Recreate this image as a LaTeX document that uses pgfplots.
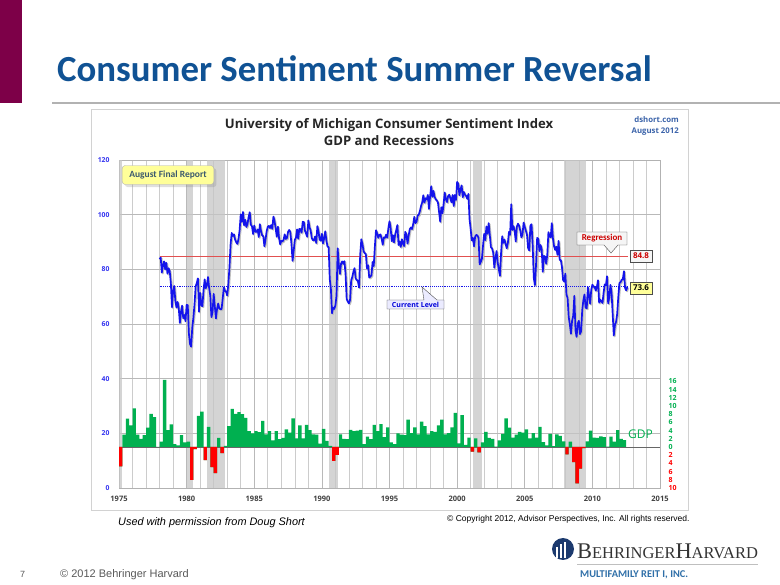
\documentclass[border=0pt]{standalone}
\usepackage{fontspec}
\setmainfont{Liberation Sans}
\newfontfamily\calibri{Carlito}
\newfontfamily\osans{Open Sans}
\newfontfamily\lserif{Liberation Serif}
\usepackage{pgfplots}
\pgfplotsset{compat=1.18}
\usepackage{pgfplotstable}
\usetikzlibrary{shadows}
\newcommand\fs[1]{\fontsize{#1bp}{#1bp}\selectfont}
\definecolor{titleblue}{RGB}{16,82,148}
\definecolor{maroon}{RGB}{125,0,72}
\definecolor{lineblue}{RGB}{20,20,235}
\definecolor{gdpgreen}{RGB}{0,176,80}
\definecolor{gdpred}{RGB}{255,0,0}
\definecolor{tickblue}{RGB}{50,50,240}
\definecolor{yellowbox}{RGB}{255,255,153}
\definecolor{navy}{RGB}{28,58,110}
\definecolor{reitblue}{RGB}{47,111,168}
\definecolor{dshort}{RGB}{60,100,170}
\definecolor{slate}{RGB}{60,90,110}
\definecolor{regred}{RGB}{225,80,80}

% University of Michigan sentiment, monthly, Jan 1978 - Aug 2012
\pgfplotstableread[row sep=\\]{v\\
83.7\\84.3\\78.8\\81.6\\82.9\\80.0\\82.4\\78.4\\80.4\\79.3\\75.0\\66.1\\
72.1\\73.9\\68.4\\66.0\\68.1\\65.8\\60.4\\64.5\\66.7\\62.1\\63.3\\61.0\\
67.0\\66.9\\56.5\\52.7\\51.7\\58.7\\62.3\\67.3\\73.7\\75.0\\76.7\\64.5\\
71.4\\66.9\\66.5\\72.4\\76.3\\73.1\\74.1\\77.2\\73.1\\70.3\\62.5\\64.3\\
71.0\\66.5\\62.0\\65.5\\67.5\\65.7\\65.4\\65.4\\69.3\\73.4\\72.1\\71.9\\
70.4\\74.6\\80.8\\89.1\\93.3\\92.2\\92.8\\90.9\\89.9\\89.3\\91.1\\94.2\\
100.1\\97.4\\101.0\\96.1\\98.1\\95.5\\96.6\\99.1\\100.9\\96.3\\95.7\\92.9\\
96.0\\93.7\\93.7\\94.6\\91.8\\96.5\\94.0\\92.4\\92.1\\88.4\\90.9\\93.9\\
95.6\\95.9\\95.1\\96.2\\94.8\\99.3\\97.7\\94.9\\91.9\\95.6\\91.4\\89.1\\
90.4\\90.2\\90.8\\92.8\\91.1\\91.5\\93.7\\94.4\\93.6\\89.3\\83.1\\86.8\\
90.8\\91.6\\94.6\\91.2\\94.8\\94.7\\93.4\\97.4\\97.3\\94.1\\93.0\\91.9\\
97.9\\95.4\\94.3\\91.5\\90.7\\90.6\\92.0\\89.6\\95.8\\93.9\\90.9\\90.5\\
93.0\\89.5\\91.3\\93.9\\90.6\\88.3\\88.2\\76.4\\72.8\\63.9\\66.0\\65.5\\
66.8\\70.4\\87.7\\81.8\\78.3\\82.1\\82.9\\82.0\\83.0\\78.3\\69.1\\68.2\\
67.5\\68.8\\76.0\\77.2\\79.2\\80.4\\76.6\\76.1\\75.6\\73.3\\85.3\\91.0\\
89.3\\86.6\\85.9\\85.6\\80.3\\81.5\\77.0\\77.3\\77.9\\82.7\\81.2\\88.2\\
94.3\\93.2\\91.5\\92.6\\92.8\\91.2\\89.0\\91.7\\91.5\\92.7\\91.6\\95.1\\
97.6\\95.1\\90.3\\92.5\\89.8\\92.7\\94.4\\96.2\\88.9\\90.2\\88.2\\91.0\\
89.3\\88.5\\93.7\\92.7\\89.4\\92.4\\94.7\\95.3\\94.7\\96.5\\99.2\\96.9\\
97.4\\99.7\\100.0\\101.4\\103.2\\104.5\\107.1\\104.4\\106.0\\105.6\\107.2\\102.1\\
106.6\\110.4\\106.5\\108.7\\106.5\\105.6\\105.2\\104.4\\100.9\\97.4\\102.7\\100.5\\
103.9\\108.1\\105.7\\104.6\\106.8\\107.3\\106.0\\104.5\\107.2\\103.2\\107.2\\105.4\\
112.0\\111.3\\107.1\\109.2\\110.7\\106.4\\108.3\\107.3\\106.8\\105.8\\107.6\\98.4\\
94.7\\90.6\\91.5\\88.4\\92.0\\92.6\\92.4\\91.5\\81.8\\82.7\\83.9\\88.8\\
93.0\\90.7\\95.7\\93.0\\96.9\\92.4\\88.1\\87.6\\86.1\\80.6\\84.2\\86.7\\
82.4\\79.9\\77.6\\86.0\\92.1\\89.7\\90.9\\89.3\\87.7\\89.6\\93.7\\92.6\\
103.8\\94.4\\95.8\\94.2\\90.2\\95.6\\96.7\\95.9\\94.2\\91.7\\92.8\\97.1\\
95.5\\94.1\\92.6\\87.7\\86.9\\96.0\\96.5\\89.1\\76.9\\74.2\\81.6\\91.5\\
91.2\\86.7\\88.9\\87.4\\79.1\\84.9\\84.7\\82.0\\85.4\\93.6\\92.1\\91.7\\
96.9\\91.3\\88.4\\87.1\\88.3\\85.3\\90.4\\83.4\\83.4\\80.9\\76.1\\75.5\\
78.4\\70.8\\69.5\\62.6\\59.8\\56.4\\61.2\\63.0\\70.3\\57.6\\55.3\\60.1\\
61.2\\56.3\\57.3\\65.1\\68.7\\70.8\\66.0\\65.7\\73.5\\70.6\\67.4\\72.5\\
74.4\\73.6\\73.6\\72.2\\73.6\\76.0\\67.8\\68.9\\68.2\\67.7\\71.6\\74.5\\
74.2\\77.5\\67.5\\69.8\\74.3\\71.5\\63.7\\55.8\\59.5\\60.8\\63.7\\69.9\\
75.0\\75.3\\76.2\\76.4\\79.3\\73.2\\72.3\\73.6\\
}\sentiment

% Real GDP growth, quarterly annualized, 1975Q1 - 2012Q2
\pgfplotstableread[row sep=\\]{g\\
-4.7\\3.0\\6.9\\5.3\\ 9.4\\3.0\\2.0\\2.9\\ 4.7\\8.1\\7.3\\0.0\\ 1.3\\16.4\\4.1\\5.5\\
0.7\\0.4\\2.9\\1.1\\ 1.3\\-8.0\\-0.5\\7.6\\ 8.6\\-3.2\\4.9\\-4.9\\ -6.4\\2.2\\-1.5\\0.3\\
5.1\\9.3\\8.1\\8.5\\ 8.0\\7.1\\3.9\\3.3\\ 3.9\\3.6\\6.4\\3.1\\ 3.9\\1.6\\3.9\\1.9\\
2.2\\4.3\\3.5\\7.0\\ 2.1\\5.3\\2.1\\5.4\\ 4.1\\3.1\\3.0\\0.8\\ 4.4\\1.5\\0.3\\-3.4\\
-1.9\\3.1\\2.0\\1.9\\ 4.2\\3.9\\4.0\\4.2\\ 0.7\\2.5\\1.9\\5.4\\ 3.9\\5.6\\2.4\\4.8\\
1.1\\0.7\\3.3\\3.0\\ 2.9\\6.7\\3.4\\4.8\\ 3.1\\6.2\\5.1\\3.1\\ 3.9\\3.7\\5.3\\6.7\\
3.1\\3.4\\4.8\\8.3\\ 0.9\\7.8\\0.5\\2.3\\ -1.1\\2.1\\-1.3\\1.1\\ 3.7\\2.2\\2.0\\0.1\\
1.6\\3.2\\7.0\\4.7\\ 2.3\\3.0\\3.7\\3.5\\ 4.3\\2.1\\3.4\\2.3\\ 4.9\\1.2\\0.4\\3.2\\
0.2\\3.1\\2.7\\1.4\\ -1.8\\1.3\\-3.7\\-8.9\\ -5.3\\-0.3\\1.4\\4.0\\ 2.3\\2.2\\2.6\\2.4\\
0.1\\2.5\\1.3\\4.1\\ 2.0\\1.7\\
}\gdp

\begin{document}
\begin{tikzpicture}
\useasboundingbox (0bp,0bp) rectangle (780bp,585bp);
\begin{scope}[x=1bp,y=1bp]
\fill[white] (0,0) rectangle (780,585);
\fill[maroon] (0,482) rectangle (22,585);
\node[anchor=base west, text=titleblue, font=\calibri\bfseries\fs{36.8}, inner sep=0] at (57,503) {Consumer Sentiment Summer Reversal};
\draw[gray!60, line width=2] (52,482) -- (780,482);
\draw[gray!35] (91,75) rectangle (688,476);
\end{scope}

\begin{axis}[at={(119bp,97bp)}, anchor=south west, scale only axis,
  width=541bp, height=328bp,
  xmin=1975, xmax=2015, ymin=0, ymax=120,
  xtick={1975,1980,...,2015}, minor x tick num=4,
  ytick={0,20,...,120},
  grid=both,
  major grid style={gray!55, line width=0.6},
  minor grid style={gray!40, line width=0.6},
  major tick length=0, minor tick length=0,
  axis line style={gray!60},
  yticklabel style={font=\osans\bfseries\fs{6.8}, text=tickblue, xshift=-6bp},
  xticklabel style={font=\osans\bfseries\fs{7.5}, text=black!75, yshift=-5bp},
  /pgf/number format/1000 sep={},
  /pgf/number format/assume math mode=true,
]
% recessions
\addplot[fill=gray!45, fill opacity=0.75, draw=none] coordinates {(1975,0) (1975,120) (1975.2,120) (1975.2,0)} -- cycle;
\addplot[fill=gray!45, fill opacity=0.75, draw=none] coordinates {(1980,0) (1980,120) (1980.5,120) (1980.5,0)} -- cycle;
\addplot[fill=gray!45, fill opacity=0.75, draw=none] coordinates {(1981.5,0) (1981.5,120) (1982.85,120) (1982.85,0)} -- cycle;
\addplot[fill=gray!45, fill opacity=0.75, draw=none] coordinates {(1990.5,0) (1990.5,120) (1991.2,120) (1991.2,0)} -- cycle;
\addplot[fill=gray!45, fill opacity=0.75, draw=none] coordinates {(2001.15,0) (2001.15,120) (2001.85,120) (2001.85,0)} -- cycle;
\addplot[fill=gray!45, fill opacity=0.75, draw=none] coordinates {(2007.9,0) (2007.9,120) (2009.5,120) (2009.5,0)} -- cycle;
% GDP zero line
\addplot[black!60, line width=0.8] coordinates {(1975,15) (2015,15)};
% regression and current level
\addplot[regred, line width=0.6] coordinates {(1978,84.8) (2012.6,84.8)};
\addplot[lineblue, densely dotted, line width=0.9] coordinates {(1978,73.6) (2012.6,73.6)};
% sentiment
\addplot[black!25, line width=1.7, line join=round, xshift=1bp, yshift=-1bp] table[x expr=1978+\coordindex/12, y=v] {\sentiment};
\addplot[lineblue, line width=1.7, line join=round] table[x expr=1978+\coordindex/12, y=v] {\sentiment};
\end{axis}

\begin{axis}[at={(119bp,97bp)}, anchor=south west, scale only axis,
  width=541bp, height=328bp,
  xmin=1975, xmax=2015, ymin=-10, ymax=70,
  axis x line=none, axis y line*=right,
  y axis line style={draw=none},
  ytick={-10,-8,...,16},
  yticklabels={\textcolor{gdpred}{10},\textcolor{gdpred}{8},\textcolor{gdpred}{6},\textcolor{gdpred}{4},\textcolor{gdpred}{2},0,2,4,6,8,10,12,14,16},
  major tick length=0,
  yticklabel style={font=\osans\bfseries\fs{7}, text=gdpgreen, xshift=5bp},
  ybar, bar width=0.25, /pgf/bar shift=0pt,
]
\addplot[fill=gdpgreen, draw=none] table[x expr=1975.125+\coordindex/4, y=g] {\gdp};
\addplot[fill=gdpred, draw=none] coordinates {(1975.125,-4.7) (1980.375,-8.0) (1980.625,-0.5) (1981.375,-3.2) (1981.875,-4.9) (1982.125,-6.4) (1982.625,-1.5) (1990.875,-3.4) (1991.125,-1.9) (2001.125,-1.1) (2001.625,-1.3) (2008.125,-1.8) (2008.625,-3.7) (2008.875,-8.9) (2009.125,-5.3) (2009.375,-0.3)};
\end{axis}

\begin{scope}[x=1bp,y=1bp]
% chart titles
\node[anchor=base, font=\osans\bfseries\fs{13.1}, text=black!85, inner sep=0] at (389,456) {University of Michigan Consumer Sentiment Index};
\node[anchor=base, font=\osans\bfseries\fs{13.1}, text=black!85, inner sep=0] at (389,439) {GDP and Recessions};
\node[anchor=base east, font=\osans\bfseries\fs{7.8}, text=dshort, inner sep=0] at (679,462) {dshort.com};
\node[anchor=base east, font=\osans\bfseries\fs{7.8}, text=dshort, inner sep=0] at (679,451) {August 2012};

% annotations
\node[draw=gray!60, fill=yellowbox, rounded corners=3, minimum width=92, minimum height=19, text=slate, font=\calibri\bfseries\fs{9.5}, drop shadow={opacity=0.25}] at (168,410) {August Final Report};
\draw[gray!60!black, fill=gray!8] (577,340) -- (604,340) -- (611,332) -- (618,340) -- (627,340) -- (627,353) -- (577,353) -- cycle;
\node[text=red!80!black, font=\calibri\bfseries\fs{9}, inner sep=0] at (602,346.5) {Regression};
\node[draw=gray!60!black, fill=gray!8, text=red!80!black, font=\osans\bfseries\fs{8}, minimum width=22, minimum height=12, inner sep=1] at (641,329) {84.8};
\node[draw=gray!60!black, fill=yellowbox, text=black, font=\osans\bfseries\fs{8}, minimum width=22, minimum height=12, inner sep=1] at (641,297) {73.6};
\draw[gray!60!black, fill=blue!8] (387,285) -- (424,285) -- (422,298) -- (437,285) -- (444,285) -- (444,276) -- (387,276) -- cycle;
\node[text=blue!85!black, font=\osans\bfseries\fs{7}, inner sep=0] at (415.5,280.5) {Current Level};
\node[anchor=base west, font=\osans\fs{12}, text=gdpgreen, inner sep=0] at (628,147) {GDP};

% footer
\node[anchor=base west, font=\itshape\fs{10.9}, inner sep=0] at (118,60) {Used with permission from Doug Short};
\node[anchor=base west, font=\fs{8.5}, inner sep=0] at (447,64) {© Copyright 2012, Advisor Perspectives, Inc. All rights reserved.};
\node[anchor=base west, font=\fs{9}, text=gray!70!black, inner sep=0] at (20,8) {7};
\node[anchor=base west, font=\fs{11}, text=gray!70!black, inner sep=0] at (60,8) {© 2012 Behringer Harvard};

% logo
\fill[navy] (563,36) circle (11);
\fill[white] (556,27) rectangle (558,38);
\fill[white] (560,27) rectangle (562,41);
\fill[white] (564,27) rectangle (566,43);
\node[anchor=base west, inner sep=0, text=black!80, font=\lserif] at (577,27) {\fs{22.4}B\fs{16.5}EHRINGER\fs{22.4}H\fs{16.5}ARVARD};
\draw[gray!50, line width=0.8] (577,21) -- (758,21);
\node[anchor=base west, inner sep=0, text=reitblue, font=\calibri\bfseries\fs{10.4}] at (580,8) {MULTIFAMILY REIT I, INC.};
\end{scope}
\end{tikzpicture}
\end{document}
